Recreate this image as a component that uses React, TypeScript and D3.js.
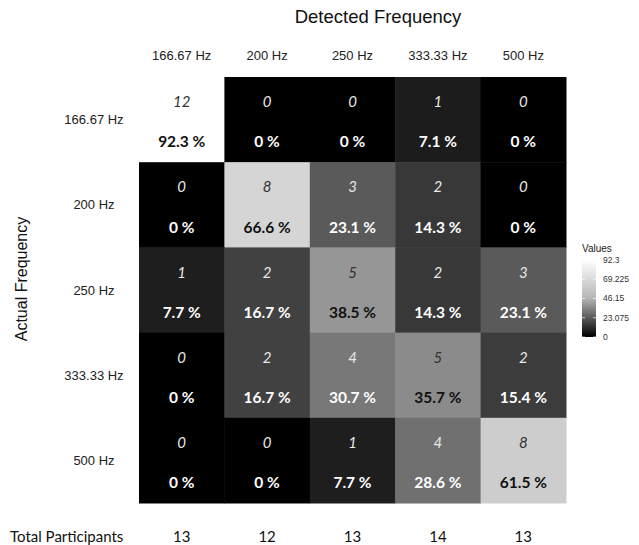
import React from 'react';
import * as d3 from 'd3';

// frequencies shown on both axes
const actualFreq = ['166.67 Hz', '200 Hz', '250 Hz', '333.33 Hz', '500 Hz'];
const detectedFreq = ['166.67 Hz', '200 Hz', '250 Hz', '333.33 Hz', '500 Hz'];

// rows = actual, columns = detected
const counts = [
  [12, 0, 0, 1, 0],
  [0, 8, 3, 2, 0],
  [1, 2, 5, 2, 3],
  [0, 2, 4, 5, 2],
  [0, 0, 1, 4, 8],
];
const percents = [
  [92.3, 0, 0, 7.1, 0],
  [0, 66.6, 23.1, 14.3, 0],
  [7.7, 16.7, 38.5, 14.3, 23.1],
  [0, 16.7, 30.7, 35.7, 15.4],
  [0, 0, 7.7, 28.6, 61.5],
];
const totals = [13, 12, 13, 14, 13];
const legendTicks = [0, 23.075, 46.15, 69.225, 92.3];

const W = 639;
const H = 545;
const axisFont = '"Liberation Sans", Arial, sans-serif';
const cellFont = 'Lato, "Open Sans", sans-serif';

const App = () => {
  const x = d3.scaleBand().domain(detectedFreq).range([139, 566]);
  const y = d3.scaleBand().domain(actualFreq).range([77, 503]);
  const maxVal = d3.max(legendTicks) as number;
  const color = d3.scaleLinear<string>()
    .domain([0, maxVal / 2, maxVal])
    .range(['#000000', '#b4b4b4', '#ffffff']);

  const cells = actualFreq.flatMap((a, i) =>
    detectedFreq.map((d, j) => ({ a, d, count: counts[i][j], pct: percents[i][j] }))
  );

  // legend colourbar
  const ly = d3.scaleLinear().domain([0, maxVal]).range([337, 260]);
  const barX = 582;
  const barW = 14;
  const stops = d3.range(0, 1.0001, 0.1).map(t => ({ t, c: color(t * maxVal) }));

  return (
    <svg width={W} height={H} style={{ position: 'absolute', left: 0, top: 0, background: '#fff' }}>
      <defs>
        <linearGradient id="lg" x1="0" y1="1" x2="0" y2="0">
          {stops.map(s => (
            <stop key={s.t} offset={s.t} stopColor={s.c} />
          ))}
        </linearGradient>
      </defs>

      <text x={378} y={17} dy="0.35em" textAnchor="middle" fontFamily={axisFont} fontSize={18.5} fill="#111">
        Detected Frequency
      </text>
      <text transform={`translate(21,279) rotate(-90)`} dy="0.35em" textAnchor="middle" fontFamily={axisFont} fontSize={16} fill="#111">
        Actual Frequency
      </text>

      {detectedFreq.map(d => (
        <text key={d} x={(x(d) as number) + x.bandwidth() / 2} y={55} dy="0.35em" textAnchor="middle"
          fontFamily={axisFont} fontSize={13} fill="#222">{d}</text>
      ))}
      {actualFreq.map(a => (
        <text key={a} x={94} y={(y(a) as number) + y.bandwidth() / 2} dy="0.35em" textAnchor="middle"
          fontFamily={axisFont} fontSize={13} fill="#222">{a}</text>
      ))}

      {cells.map(c => {
        const cx = (x(c.d) as number);
        const cy = (y(c.a) as number);
        const light = c.pct > 33;
        return (
          <g key={c.a + c.d}>
            <rect x={cx} y={cy} width={x.bandwidth() + 0.5} height={y.bandwidth() + 0.5} fill={color(c.pct)} />
            <text x={cx + x.bandwidth() / 2} y={cy + 25} dy="0.35em" textAnchor="middle"
              fontFamily={cellFont} fontStyle="italic" fontSize={15} fill={light ? '#333' : '#e8e8e8'}>
              {c.count}
            </text>
            <text x={cx + x.bandwidth() / 2} y={cy + 65} dy="0.35em" textAnchor="middle"
              fontFamily={cellFont} fontWeight="bold" fontSize={15.5} fill={light ? '#111' : '#fff'}>
              {`${c.pct} %`}
            </text>
          </g>
        );
      })}

      <text x={10} y={537} dy="0.35em" fontFamily={cellFont} fontSize={15} fill="#111">Total Participants</text>
      {totals.map((t, j) => (
        <text key={j} x={(x(detectedFreq[j]) as number) + x.bandwidth() / 2} y={537} dy="0.35em" textAnchor="middle"
          fontFamily={cellFont} fontSize={15} fill="#111">{t}</text>
      ))}

      <g>
        <text x={barX} y={248} dy="0.35em" fontFamily={axisFont} fontSize={10} fill="#222">Values</text>
        <rect x={barX} y={ly(maxVal)} width={barW} height={ly(0) - ly(maxVal)} fill="url(#lg)" />
        {legendTicks.map(t => (
          <g key={t}>
            <line x1={barX} x2={barX + 3} y1={ly(t)} y2={ly(t)} stroke="#fff" strokeOpacity={0.7} />
            <line x1={barX + barW - 3} x2={barX + barW} y1={ly(t)} y2={ly(t)} stroke="#fff" strokeOpacity={0.7} />
            <text x={603} y={ly(t)} dy="0.35em" fontFamily={axisFont} fontSize={8.5} fill="#333">{t}</text>
          </g>
        ))}
      </g>
    </svg>
  );
};

export default App;
